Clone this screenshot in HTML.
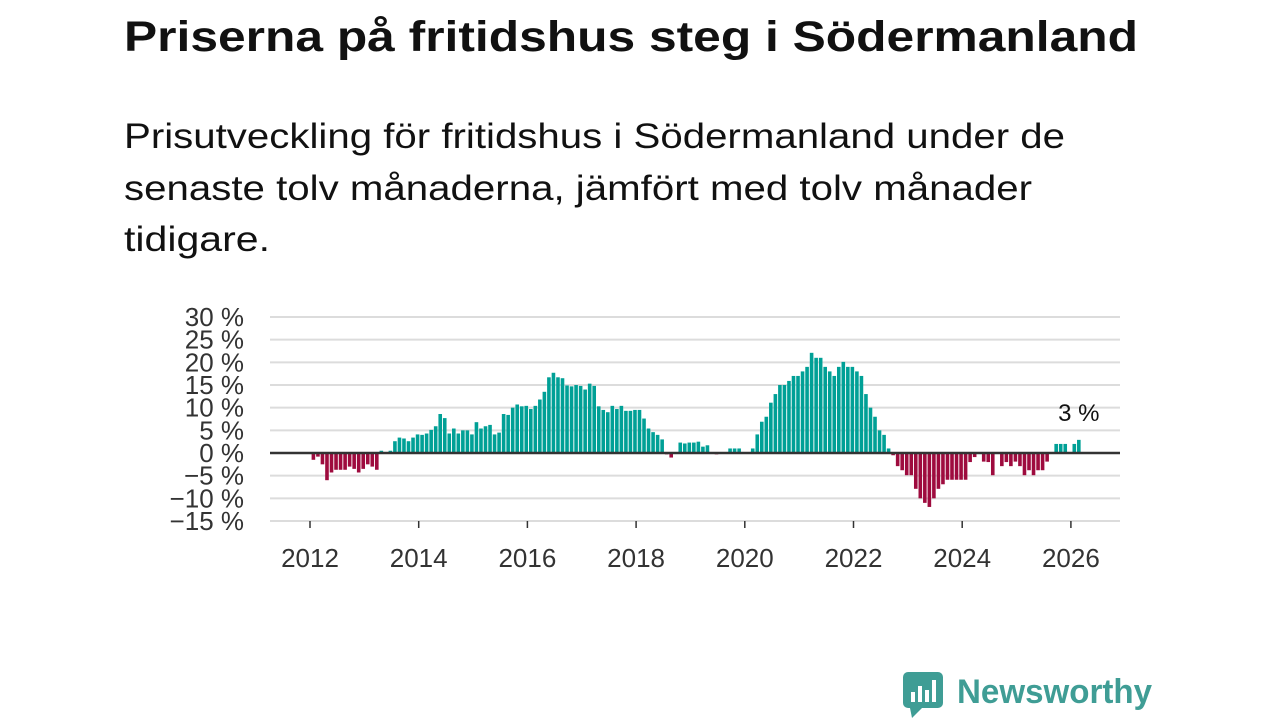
<!DOCTYPE html>
<html><head><meta charset="utf-8"><style>
body{margin:0;background:#fff;width:1280px;height:720px;overflow:hidden;font-family:"Liberation Sans",sans-serif}
</style></head><body>
<svg id="c" width="1280" height="720" xmlns="http://www.w3.org/2000/svg" style="font-family:'Liberation Sans',sans-serif">
<text x="124" y="51" font-size="43" font-weight="bold" fill="#111" textLength="1014" lengthAdjust="spacingAndGlyphs">Priserna på fritidshus steg i Södermanland</text>
<g font-size="35" fill="#111">
<text x="124" y="148" textLength="941" lengthAdjust="spacingAndGlyphs">Prisutveckling för fritidshus i Södermanland under de</text>
<text x="124" y="200" textLength="908" lengthAdjust="spacingAndGlyphs">senaste tolv månaderna, jämfört med tolv månader</text>
<text x="124" y="251" textLength="146" lengthAdjust="spacingAndGlyphs">tidigare.</text>
</g>
<g id="grid"></g><g id="bars"></g><g id="axes"></g>
<g>
<rect x="903" y="672" width="40" height="36" rx="5" fill="#3f9d95"/>
<polygon points="910,708 922,708 912,718" fill="#3f9d95"/>
<rect x="911" y="692" width="4" height="10" fill="#fff"/><rect x="918" y="686" width="4" height="16" fill="#fff"/><rect x="925" y="690" width="4" height="12" fill="#fff"/><rect x="932" y="680" width="4" height="22" fill="#fff"/>
<text x="957" y="703" font-size="34" font-weight="bold" fill="#3f9d95" textLength="195" lengthAdjust="spacingAndGlyphs">Newsworthy</text>
</g>
</svg>
<script>
const startYear = 2012;
const startMonth = 1; // Feb 2012 (0-based)
const values = [-1.5,-0.8,-2.5,-6,-4.3,-3.7,-3.7,-3.7,-3,-3.5,-4.3,-3.5,-2.5,-3,-3.7,
0.5,0,0.5,2.6,3.4,3.2,2.6,3.4,4.1,4,4.3,5.1,5.9,8.6,7.7,4.3,5.4,4.3,5,5,4.1,6.8,5.4,5.9,6.2,4.1,4.5,8.6,8.4,10,10.7,10.3,10.4,9.7,10.4,11.8,13.5,16.7,17.7,16.7,16.5,14.9,14.7,15,
14.8,14,15.3,14.8,10.3,9.5,9,10.4,9.7,10.4,9.3,9.3,9.5,9.5,7.6,5.4,4.6,4,3,-0.3,-1,0,2.3,2.1,2.3,2.3,2.5,1.4,1.7,0,-0.3,0,0,1,1,1,0,0,1,4.1,6.9,8,11.1,13,15,15,15.9,17,17,18,19,22.1,21,21,19,18,17,19,20.1,
19,19,18,17,13,10,8,5,4,1,-0.5,-2.9,-3.8,-4.9,-4.9,-7.9,-10,-11,-11.9,-10,-7.9,-6.9,-5.9,-5.9,-5.9,-5.9,-5.9,-2,-0.9,0,-1.9,-2,-4.9,0,-2.9,-2,-2.9,-1.9,-2.9,-4.9,-3.8,-4.9,-3.8,-3.8,-1.9,0,2,2,2,0,2,2.9];
const yTicks = [30,25,20,15,10,5,0,-5,-10,-15];
const yTickLabels = ["30 %","25 %","20 %","15 %","10 %","5 %","0 %","−5 %","−10 %","−15 %"];
const xTicks = [2012,2014,2016,2018,2020,2022,2024,2026];
const lastLabel = "3 %";
const NS="http://www.w3.org/2000/svg";
const y = v => 453 - v*4.533;
const x = t => 310 + (t-2012)*54.35;
function mk(tag, attrs, parent){const e=document.createElementNS(NS,tag);for(const k in attrs)e.setAttribute(k,attrs[k]);document.getElementById(parent).appendChild(e);return e;}
yTicks.forEach((v,i)=>{
  if(v!==0){const g=mk('line',{x1:270,x2:1120,y1:y(v),y2:y(v),stroke:'#dcdcdc','stroke-width':2},'grid');
  
  }
  const t=mk('text',{x:244,y:y(v)+9,'text-anchor':'end','font-size':26,fill:'#333'},'axes');
  t.textContent=yTickLabels[i];
  
  
});
values.forEach((v,i)=>{
  const t=startYear+(startMonth+i-0.25)/12;
  const cx=x(t);
  const top=Math.min(y(v),y(0)), h=Math.abs(y(v)-y(0));
  const r=mk('rect',{x:cx-1.8,y:top,width:3.6,height:h,fill:v>=0?'#00a096':'#9e0b3e'},'bars');
  
  
});
const z=mk('line',{x1:270,x2:1120,y1:y(0),y2:y(0),stroke:'#333','stroke-width':2.5},'axes');


xTicks.forEach(yr=>{
  const l=mk('line',{x1:x(yr),x2:x(yr),y1:521,y2:528,stroke:'#333','stroke-width':1.5},'axes');
  
  
  const t=mk('text',{x:x(yr),y:567,'text-anchor':'middle','font-size':26,fill:'#333'},'axes');
  t.textContent=yr;
  
  
});
const li=values.length-1;
const lt=mk('text',{x:x(startYear+(startMonth+li-0.25)/12),y:y(values[li])-19,'text-anchor':'middle','font-size':24,fill:'#111'},'axes');
lt.textContent=lastLabel;


</script>
</body></html>
